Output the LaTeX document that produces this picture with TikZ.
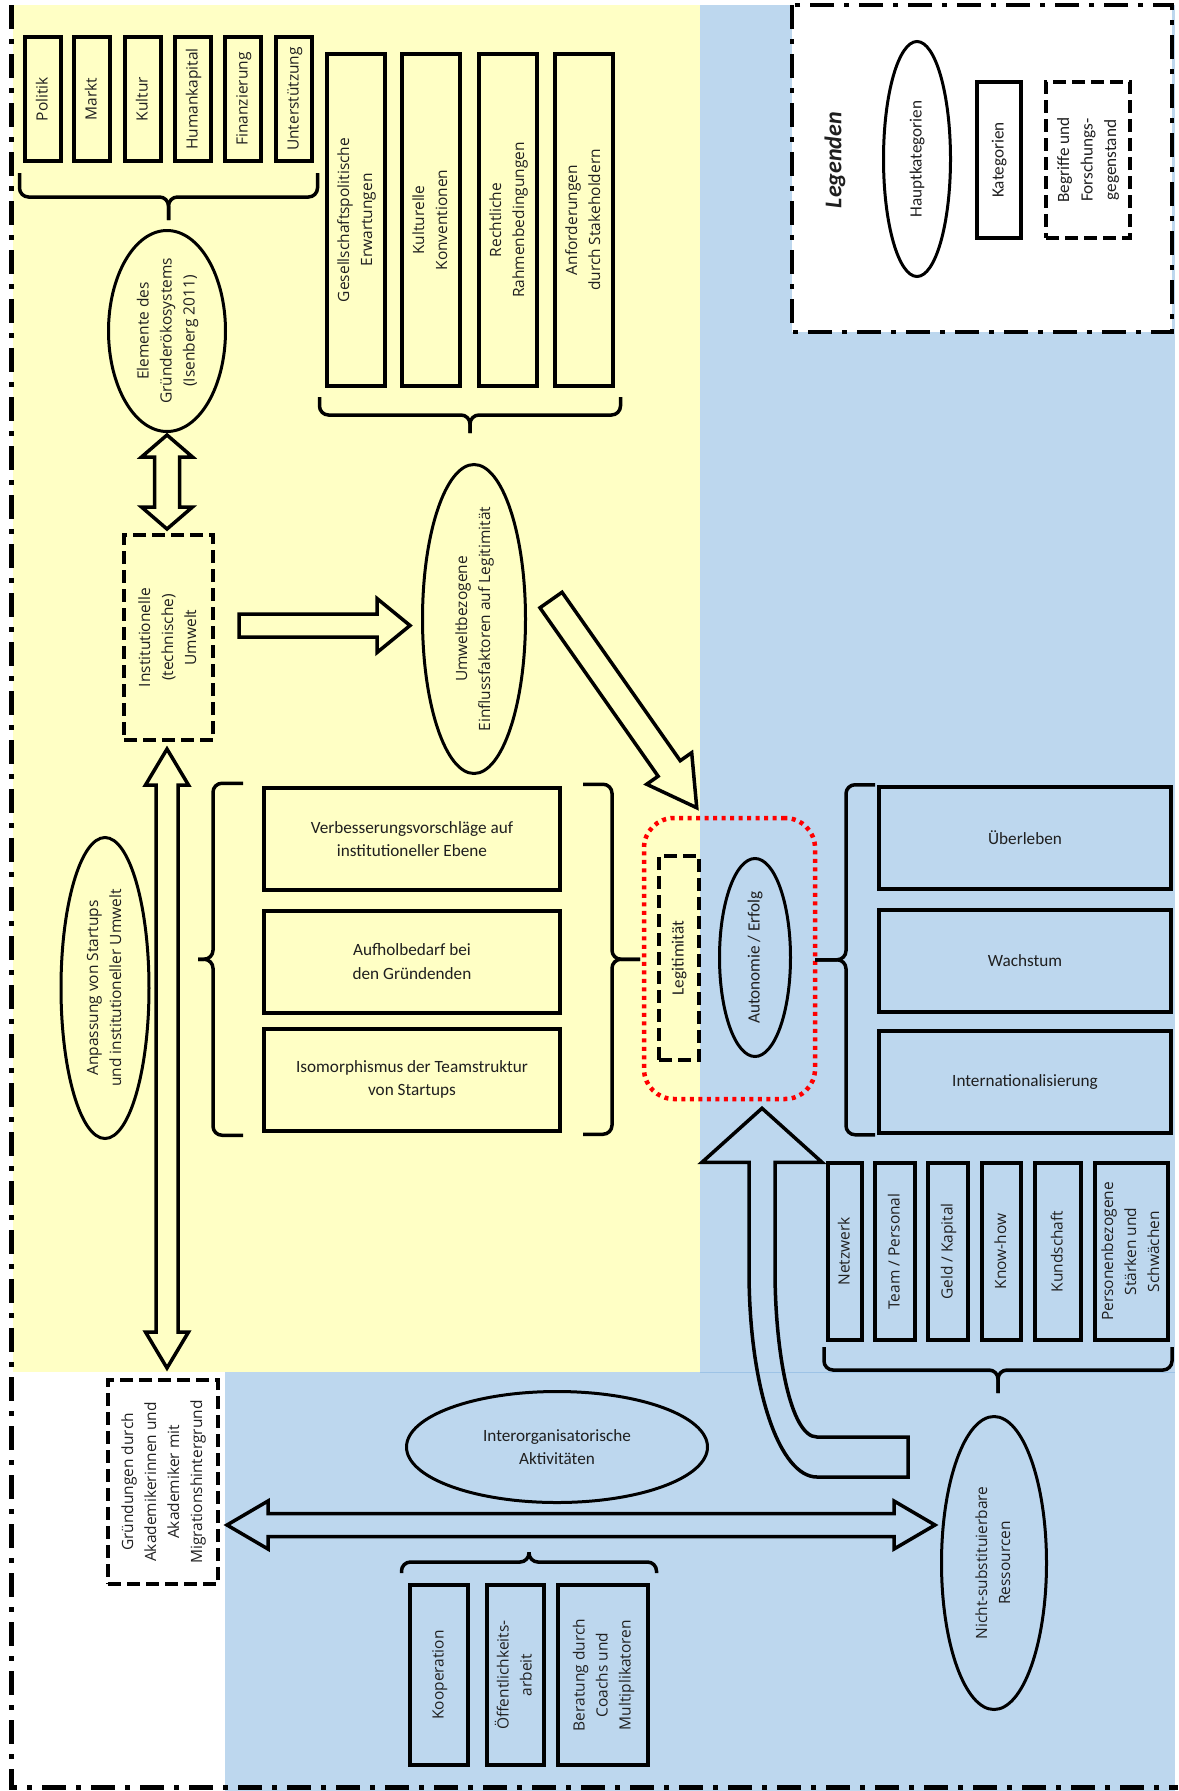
\documentclass[tikz,border=0pt]{standalone}
\usepackage{fontspec}
\setmainfont{Carlito}
\newfontfamily\osans{Open Sans}
\usepackage{graphicx}
\usepackage{tikz}
\usetikzlibrary{calc,shapes.geometric}
\definecolor{bgyellow}{HTML}{FFFFC5}
\definecolor{bgblue}{HTML}{BDD7EE}
\definecolor{lineblue}{HTML}{9DC3E6}
\definecolor{dotred}{HTML}{FF0000}
\colorlet{txtgray}{black!88}

\newcommand{\rottext}[1]{\rotatebox{90}{\begin{tabular}{@{}c@{}}#1\end{tabular}}}
% block arrow: from, to, shaft half width, head half width, head length
\newcommand{\blockarrow}[5]{%
  \coordinate (ba-h) at ($(#2)!#5!(#1)$);
  \draw[blockarr] ($(#1)!#3!90:(#2)$) -- ($(ba-h)!#3!90:(#2)$) -- ($(ba-h)!#4!90:(#2)$) -- (#2)
    -- ($(ba-h)!#4!-90:(#2)$) -- ($(ba-h)!#3!-90:(#2)$) -- ($(#1)!#3!-90:(#2)$) -- cycle;}
\newcommand{\blockdarrow}[5]{%
  \coordinate (ba-p) at ($(#1)!#5!(#2)$);
  \coordinate (ba-q) at ($(#2)!#5!(#1)$);
  \draw[blockarr] (#1) -- ($(ba-p)!#4!90:(#2)$) -- ($(ba-p)!#3!90:(#2)$) -- ($(ba-q)!#3!90:(#2)$)
    -- ($(ba-q)!#4!90:(#2)$) -- (#2) -- ($(ba-q)!#4!-90:(#2)$) -- ($(ba-q)!#3!-90:(#2)$)
    -- ($(ba-p)!#3!-90:(#2)$) -- ($(ba-p)!#4!-90:(#2)$) -- cycle;}

\tikzset{
  katbox/.style={draw, line width=4pt, inner sep=0pt},
  begriffbox/.style={draw, line width=4pt, dash pattern=on 13pt off 6pt, inner sep=0pt},
  hauptell/.style={draw, ellipse, line width=3pt, inner sep=-4pt},
  ostext/.style={font=\osans\fontsize{15.5}{23}\selectfont},
  blockarr/.style={draw, line width=3.5pt, line join=miter},
  dashdot/.style={line width=5pt, dash pattern=on 24pt off 10pt on 5pt off 10pt},
  redframe/.style={draw=dotred, line width=4.5pt, dash pattern=on 4pt off 4.5pt, rounded corners=30pt, inner sep=0pt},
  % length / leg / tip
  pics/gbrace/.style args={#1/#2/#3}{code={
    \draw[line width=3.5pt, rounded corners=9pt] (-#1/2,0) -- (-#1/2,#2) -- (0,#2) -- (0,#3);
    \draw[line width=3.5pt, rounded corners=9pt] (#1/2,0) -- (#1/2,#2) -- (0,#2) -- (0,#3);
  }}
}

\begin{document}
\begin{tikzpicture}[x=1pt, y=-1pt, every node/.style={font=\fontsize{17.2}{23.5}\selectfont, text=txtgray}]
\useasboundingbox (0,0) rectangle (1178,1791);
% backgrounds
\fill[bgyellow] (13,5) rectangle (700,1372);
\fill[bgblue] (700,5) rectangle (1175,1372);
\fill[bgblue] (225,1372) rectangle (1175,1791);
\draw[lineblue, line width=1pt] (700,1372) -- (1175,1372);

% legend
\fill[white] (792,5) rectangle (1172,332);
\draw[dashdot, line width=4.5pt] (792,5) rectangle (1172,332);
\node[font=\fontsize{24}{28}\selectfont\bfseries\itshape] (legtitle) at (835,160) {\rotatebox{90}{Legenden}};
\node[hauptell, minimum width=67, minimum height=235] (leghaupt) at (917,159) {\rottext{Hauptkategorien}};
\node[katbox, minimum width=44, minimum height=156] (legkat) at (999,160) {\rottext{Kategorien}};
\node[begriffbox, minimum width=84, minimum height=156] (legbeg) at (1088,160) {\rottext{Begriffe und\\Forschungs-\\gegenstand}};

% elements of the ecosystem
\node[katbox, ostext, minimum width=36, minimum height=124] (politik) at (43,99) {\rottext{Politik}};
\node[katbox, ostext, minimum width=36, minimum height=124] (markt) at (92,99) {\rottext{Markt}};
\node[katbox, ostext, minimum width=36, minimum height=124] (kultur) at (143,99) {\rottext{Kultur}};
\node[katbox, ostext, minimum width=36, minimum height=124] (human) at (193,99) {\rottext{Humankapital}};
\node[katbox, ostext, minimum width=36, minimum height=124] (finanz) at (243,99) {\rottext{Finanzierung}};
\node[katbox, ostext, minimum width=36, minimum height=124] (unter) at (294,99) {\rottext{Unterstützung}};

\node[katbox, ostext, minimum width=58, minimum height=332] (gesell) at (356,220) {\rottext{Gesellschaftspolitische\\Erwartungen}};
\node[katbox, ostext, minimum width=58, minimum height=332] (kultkonv) at (431,220) {\rottext{Kulturelle\\Konventionen}};
\node[katbox, ostext, minimum width=58, minimum height=332] (recht) at (508,220) {\rottext{Rechtliche\\Rahmenbedingungen}};
\node[katbox, ostext, minimum width=58, minimum height=332] (anford) at (584,220) {\rottext{Anforderungen\\durch Stakeholdern}};

\node[hauptell, ostext, minimum width=117, minimum height=201] (elem) at (167,331) {\rottext{Elemente des\\Gründerökosystems\\(Isenberg 2011)}};
\node[begriffbox, ostext, minimum width=89, minimum height=205] (inst) at (168.5,637.5) {\rottext{Institutionelle\\(technische)\\Umwelt}};
\node[hauptell, ostext, minimum width=103, minimum height=309] (umw) at (474,619) {\rottext{Umweltbezogene\\Einflussfaktoren auf Legitimität}};

% adaptation
\node[katbox, minimum width=296, minimum height=102, align=center] (verbess) at (412,839) {Verbesserungsvorschläge auf\\institutioneller Ebene};
\node[katbox, minimum width=296, minimum height=102, align=center] (aufhol) at (412,961.5) {Aufholbedarf bei\\den Gründenden};
\node[katbox, minimum width=296, minimum height=102, align=center] (isomorph) at (412,1079.5) {Isomorphismus der Teamstruktur\\von Startups};
\node[hauptell, ostext, minimum width=88, minimum height=301] (anpass) at (105,988) {\rottext{Anpassung von Startups\\und institutioneller Umwelt}};

% centre
\node[redframe, minimum width=171, minimum height=281] (red) at (729.5,958.5) {};
\node[begriffbox, minimum width=40, minimum height=204] (legit) at (679,958) {\rottext{Legitimität}};
\node[hauptell, minimum width=71, minimum height=198] (auto) at (755,957.5) {\rottext{Autonomie / Erfolg}};

\node[katbox, minimum width=292, minimum height=102] (ueber) at (1025,838) {Überleben};
\node[katbox, minimum width=292, minimum height=102] (wachs) at (1025,960.5) {Wachstum};
\node[katbox, minimum width=292, minimum height=102] (intl) at (1025,1081.5) {Internationalisierung};

% resources
\node[katbox, ostext, minimum width=34, minimum height=177] (netz) at (845,1251.5) {\rottext{Netzwerk}};
\node[katbox, ostext, minimum width=40, minimum height=177] (team) at (895,1251.5) {\rottext{Team / Personal}};
\node[katbox, ostext, minimum width=40, minimum height=177] (geld) at (948,1251.5) {\rottext{Geld / Kapital}};
\node[katbox, ostext, minimum width=39, minimum height=177] (know) at (1001.5,1251.5) {\rottext{Know-how}};
\node[katbox, ostext, minimum width=46, minimum height=177] (kund) at (1058,1251.5) {\rottext{Kundschaft}};
\node[katbox, ostext, minimum width=73, minimum height=177] (person) at (1131.5,1251.5) {\rottext{Personenbezogene\\Stärken und\\Schwächen}};
\node[hauptell, ostext, minimum width=105, minimum height=293] (nicht) at (994,1563) {\rottext{Nicht-substituierbare\\Ressourcen}};

% bottom
\node[begriffbox, ostext, minimum width=110, minimum height=204] (gruend) at (163,1482) {\rottext{Gründungen durch\\Akademikerinnen und\\Akademiker mit\\Migrationshintergrund}};
\node[hauptell, minimum width=301, minimum height=111, align=center] (inter) at (557,1447) {Interorganisatorische\\Aktivitäten};
\node[katbox, ostext, minimum width=58, minimum height=180] (koop) at (439,1675) {\rottext{Kooperation}};
\node[katbox, ostext, minimum width=57, minimum height=180] (oeff) at (515.5,1675) {\rottext{Öffentlichkeits-\\arbeit}};
\node[katbox, ostext, minimum width=90, minimum height=180] (berat) at (603,1675) {\rottext{Beratung durch\\Coachs und\\Multiplikatoren}};

% braces
\pic at ($(politik.south west)!0.5!(unter.south east)+(0,10)$) {gbrace=298/24/47};
\pic at ($(gesell.south west)!0.5!(anford.south east)+(0,9)$) {gbrace=301/18/36};
\pic[rotate=-90] at ($(verbess.north west)!0.5!(isomorph.south west)+(-19,0)$) {gbrace=352/30/45};
\pic[rotate=90] at ($(verbess.north east)!0.5!(isomorph.south east)+(21,0)$) {gbrace=350/29/57};
\pic[rotate=-90] at ($(ueber.north west)!0.5!(intl.south west)+(-2,0)$) {gbrace=350/29/60};
\pic at ($(netz.south west)!0.5!(person.south east)+(0,5)$) {gbrace=348/23/46};
\pic[rotate=180] at ($(koop.north west)!0.5!(berat.north east)+(0,-10)$) {gbrace=255/11/21};

% block arrows
\coordinate (a1s) at ($(elem.south)+(0,2)$);
\coordinate (a1e) at ($(elem.south |- inst.north)+(0,-4)$);
\blockdarrow{a1s}{a1e}{12.5pt}{25.5pt}{22pt}
\coordinate (a2s) at ($(inst.east)+(24,-12)$);
\coordinate (a2e) at ($(a2s -| umw.west)+(-11,0)$);
\blockarrow{a2s}{a2e}{11.5pt}{27pt}{33pt}
\coordinate (a3s) at ($(umw.center)+(77,-19)$);
\coordinate (a3e) at ($(red.north west)+(55,-8)$);
\blockarrow{a3s}{a3e}{13.5pt}{27.5pt}{48pt}
\coordinate (a4s) at ($(inst.south)+(-1.5,7)$);
\coordinate (a4e) at ($(a4s |- gruend.north)+(0,-10)$);
\blockdarrow{a4s}{a4e}{11pt}{21.5pt}{36pt}
\coordinate (a5s) at ($(gruend.east)+(7,43)$);
\coordinate (a5e) at ($(a5s -| nicht.west)+(-5,0)$);
\blockdarrow{a5s}{a5e}{11.5pt}{24pt}{41pt}
\coordinate (a6s) at ($(nicht.center)+(-86,-106)$);
\coordinate (a6e) at ($(red.south)+(32.5,7)$);
\draw[blockarr] ($(a6s)+(0,-20)$) -- ($(a6s)+(-91,-20)$) .. controls ($(a6s)+(-118,-20)$) and ($(a6e)+(13,242)$) .. ($(a6e)+(13,162)$)
  -- ($(a6e)+(13,54)$) -- ($(a6e)+(60,54)$) -- (a6e) -- ($(a6e)+(-60,54)$) -- ($(a6e)+(-13,54)$) -- ($(a6e)+(-13,162)$)
  .. controls ($(a6e)+(-13,282)$) and ($(a6s)+(-128,20)$) .. ($(a6s)+(-91,20)$) -- ($(a6s)+(0,20)$) -- cycle;

% outer frame
\draw[dashdot] (11,5) -- (11,1787) -- (1178,1787);
\end{tikzpicture}
\end{document}
